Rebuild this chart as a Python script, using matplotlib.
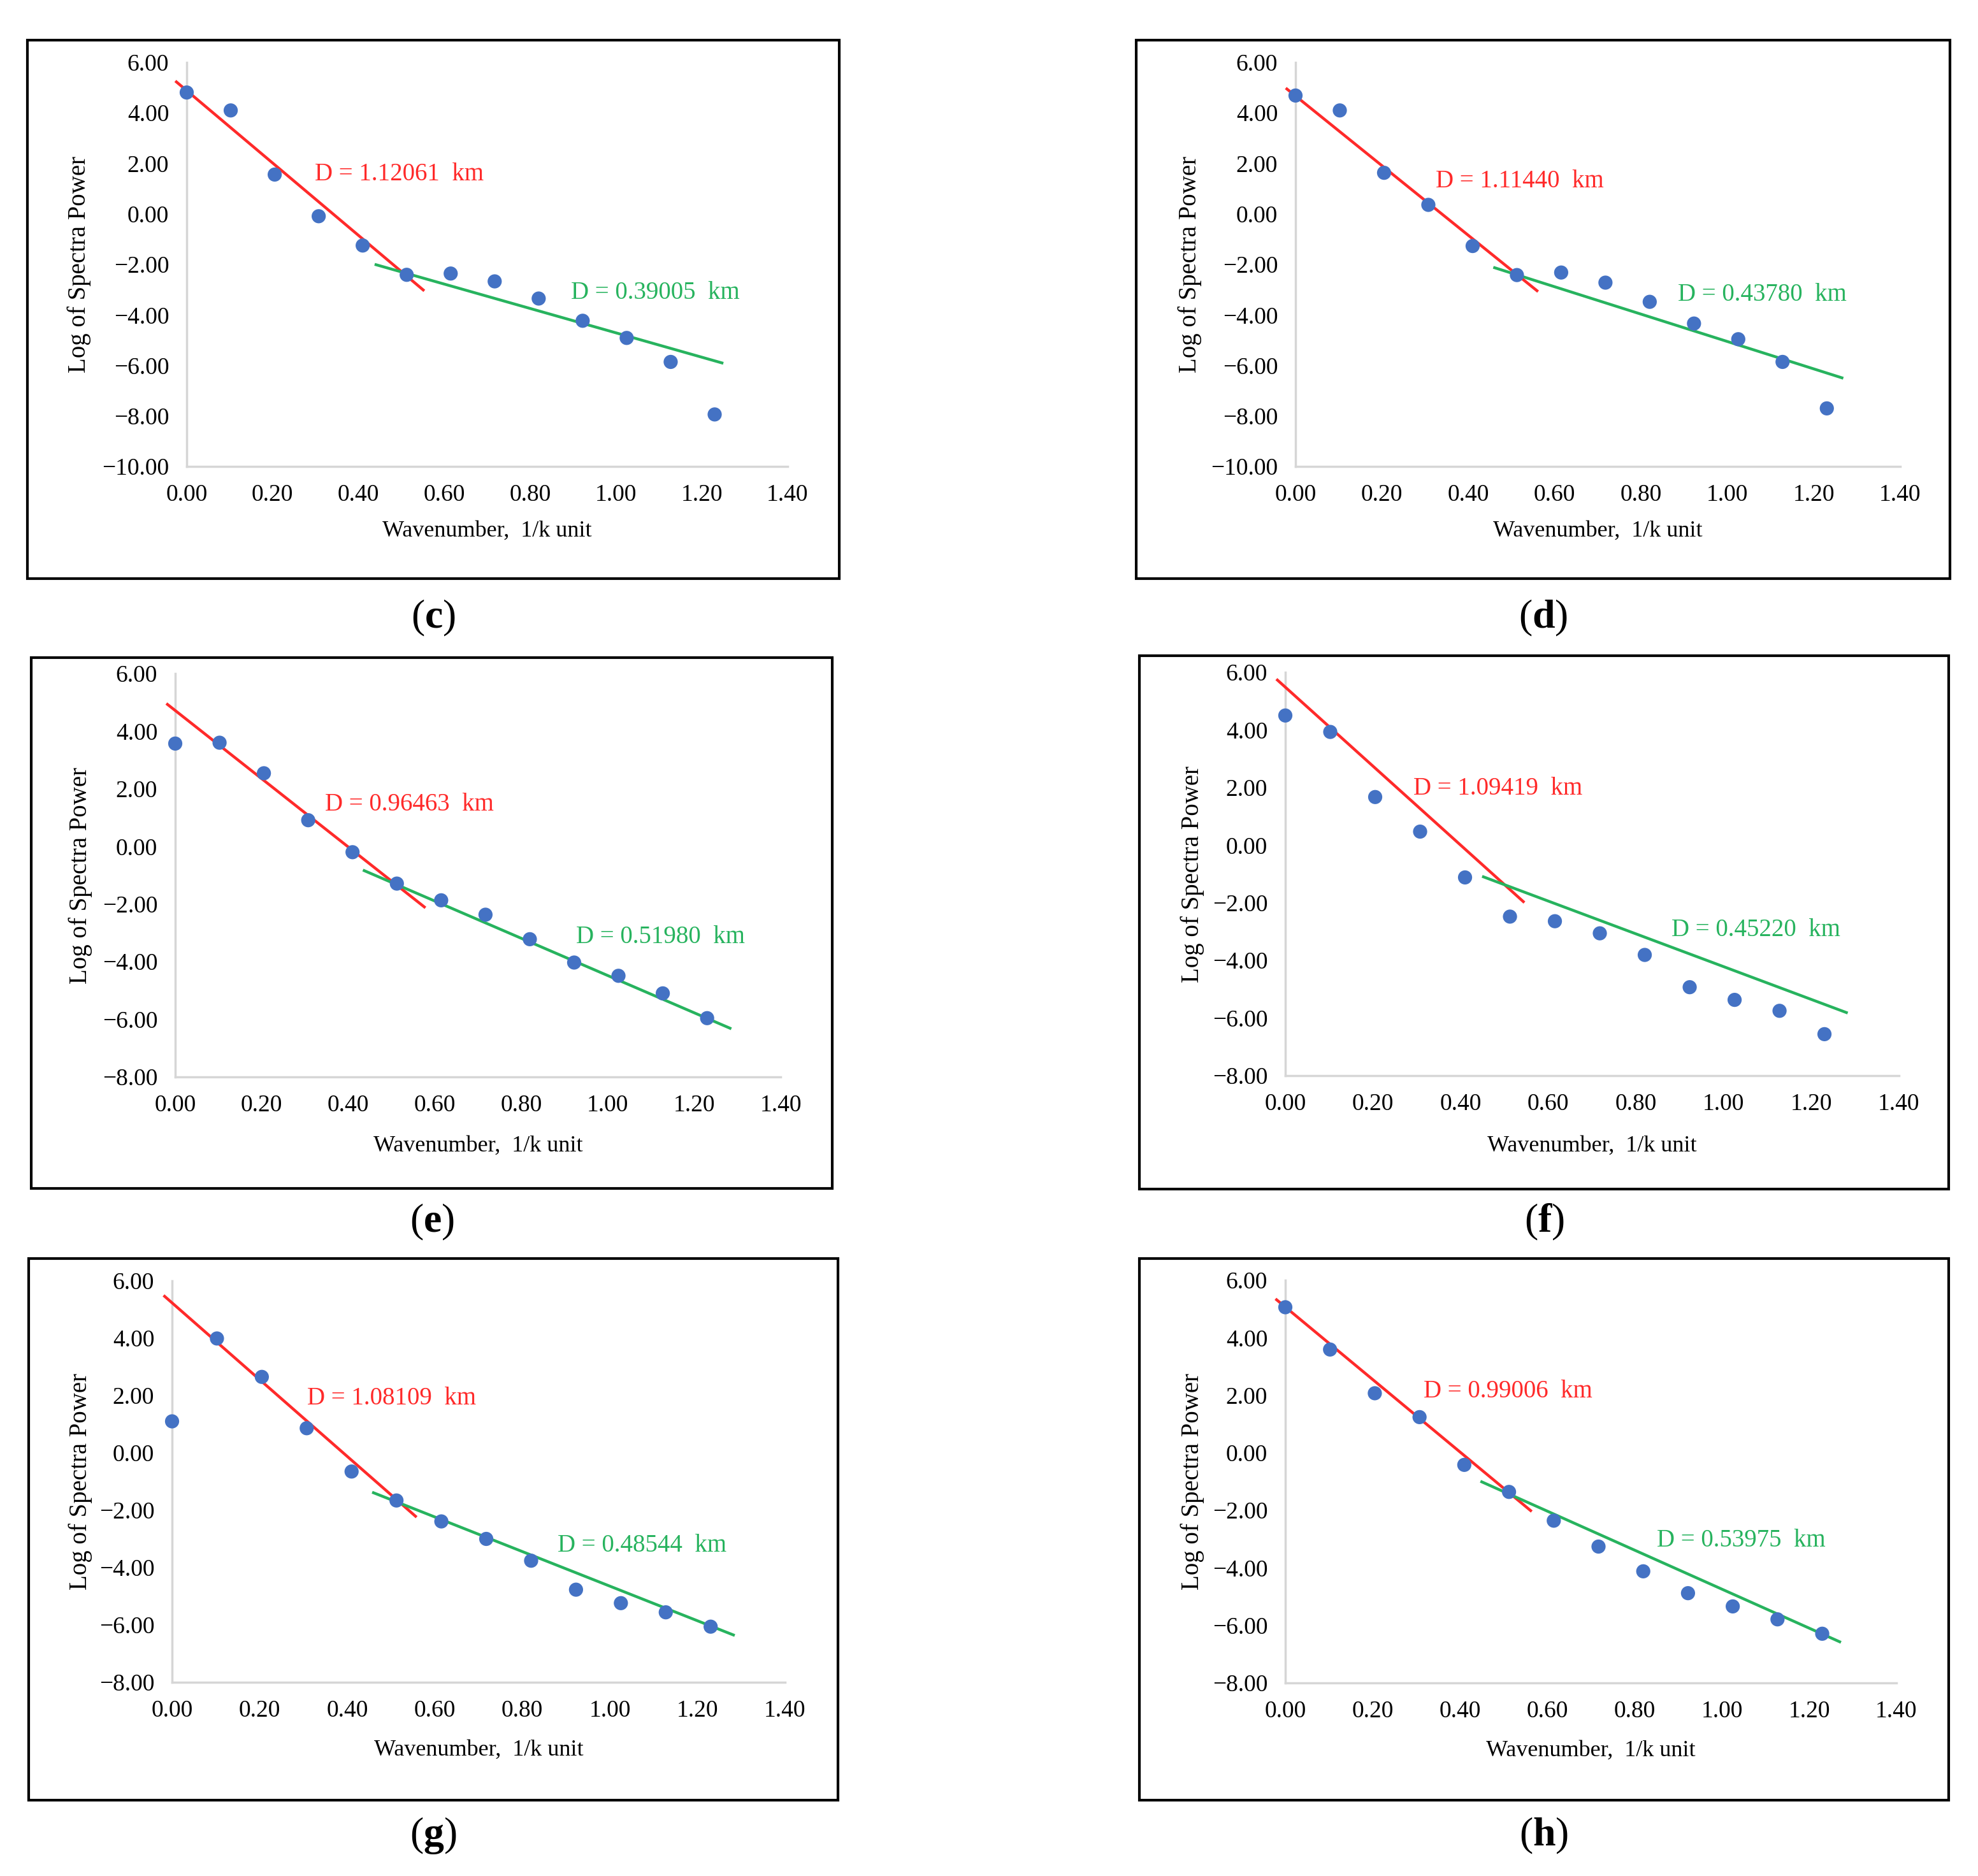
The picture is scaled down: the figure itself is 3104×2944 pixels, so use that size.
import matplotlib
matplotlib.use("Agg")
import matplotlib.pyplot as plt
from matplotlib.patches import Rectangle

plt.rcParams['font.family'] = ['Liberation Serif', 'DejaVu Serif']
plt.rcParams['mathtext.fontset'] = 'custom'
plt.rcParams['mathtext.rm'] = 'Liberation Serif'
plt.rcParams['mathtext.bf'] = 'Liberation Serif:bold'

# data
panels = ['c', 'd', 'e', 'f', 'g', 'h']
wavenumber = [0.0, 0.1025, 0.205, 0.3075, 0.41, 0.5125, 0.615, 0.7175, 0.82, 0.9225, 1.025, 1.1275, 1.23]

power_c = [4.81, 4.10, 1.56, -0.09, -1.25, -2.41, -2.36, -2.67, -3.35, -4.23, -4.91, -5.86, -7.94]
power_d = [4.69, 4.10, 1.63, 0.36, -1.27, -2.42, -2.32, -2.72, -3.48, -4.34, -4.96, -5.86, -7.70]
power_e = [3.57, 3.60, 2.54, 0.91, -0.20, -1.29, -1.87, -2.37, -3.22, -4.03, -4.49, -5.10, -5.96]
power_f = [4.50, 3.93, 1.67, 0.47, -1.12, -2.48, -2.64, -3.06, -3.81, -4.93, -5.37, -5.75, -6.56]
power_g = [1.10, 3.99, 2.65, 0.86, -0.65, -1.66, -2.39, -3.00, -3.76, -4.77, -5.24, -5.56, -6.06]
power_h = [5.06, 3.59, 2.07, 1.24, -0.42, -1.36, -2.36, -3.26, -4.12, -4.88, -5.34, -5.79, -6.29]

# fitted lines (end points): deep source = red, shallow source = green
deep_x = {'c': [-0.024, 0.551], 'd': [-0.020, 0.559], 'e': [-0.018, 0.576],
          'f': [-0.018, 0.543], 'g': [-0.017, 0.556], 'h': [-0.020, 0.562]}
deep_y = {'c': [5.23, -3.01], 'd': [4.95, -3.04], 'e': [4.93, -2.10],
          'f': [5.73, -1.96], 'g': [5.46, -2.21], 'h': [5.32, -2.01]}
shallow_x = {'c': [0.441, 1.247], 'd': [0.461, 1.265], 'e': [0.437, 1.283],
             'f': [0.452, 1.280], 'g': [0.460, 1.282], 'h': [0.450, 1.270]}
shallow_y = {'c': [-2.01, -5.90], 'd': [-2.13, -6.49], 'e': [-0.84, -6.31],
             'f': [-1.10, -5.81], 'g': [-1.39, -6.35], 'h': [-1.01, -6.57]}

depth_deep = ['1.12061', '1.11440', '0.96463', '1.09419', '1.08109', '0.99006']
depth_shallow = ['0.39005', '0.43780', '0.51980', '0.45220', '0.48544', '0.53975']
y_bottom = [-10, -10, -8, -8, -8, -8]

powers = [power_c, power_d, power_e, power_f, power_g, power_h]

# layout in pixels of the 3104 x 2944 picture
W, H = 3104, 2944
box = {'c': (43, 63, 1317, 908), 'd': (1783, 63, 3060, 908),
       'e': (49, 1032, 1306, 1865), 'f': (1788, 1029, 3058, 1866),
       'g': (45, 1975, 1315, 2825), 'h': (1788, 1975, 3058, 2825)}
# x of 0, x of 1.40, y of 6, y of bottom value
axpix = {'c': (293, 1236, 98, 732), 'd': (2033, 2982, 98, 732),
         'e': (275, 1225, 1057, 1690), 'f': (2017, 2980, 1055, 1688),
         'g': (270, 1232, 2010, 2640), 'h': (2017, 2976, 2009, 2641)}
ylab_x = {'c': -0.159, 'd': -0.155, 'e': -0.137, 'f': -0.132, 'g': -0.130, 'h': -0.132}
xlab_y = {'c': -0.134, 'd': -0.134, 'e': -0.145, 'f': -0.148, 'g': -0.142, 'h': -0.142}
label_y = {'c': 970, 'd': 970, 'e': 1918, 'f': 1918, 'g': 2881, 'h': 2881}
deep_txt = {'c': (0.298, 1.56), 'd': (0.325, 1.29), 'e': (0.346, 1.45),
            'f': (0.292, 1.96), 'g': (0.308, 1.90), 'h': (0.317, 2.14)}
shallow_txt = {'c': (0.895, -3.12), 'd': (0.885, -3.20), 'e': (0.927, -3.15),
               'f': (0.881, -2.94), 'g': (0.880, -3.24), 'h': (0.851, -3.05)}

RED = '#FF2A2A'
GREEN = '#27B35E'
BLUE = '#4472C4'
AXGRAY = '#D6D6D6'

fig = plt.figure(figsize=(W / 100, H / 100), dpi=100)

def fmt(v):
    s = f"{abs(v):.2f}"
    return ('\u2212' + s) if v < 0 else s

for i, p in enumerate(panels):
    bx0, by0, bx1, by1 = box[p]
    fig.patches.append(Rectangle((bx0 / W, 1 - by1 / H), (bx1 - bx0) / W, (by1 - by0) / H,
                                 transform=fig.transFigure, fill=False,
                                 edgecolor='black', linewidth=3, zorder=0))
    fig.text((bx0 + bx1) / 2 / W, 1 - label_y[p] / H, r'($\mathbf{' + p + '}$)',
             ha='center', va='center', fontsize=46)

    x0, x1, yt, yb = axpix[p]
    ax = fig.add_axes([x0 / W, 1 - yb / H, (x1 - x0) / W, (yb - yt) / H])
    ax.set_xlim(0, 1.40)
    ax.set_ylim(y_bottom[i], 6)
    for s in ['top', 'right']:
        ax.spines[s].set_visible(False)
    for s in ['left', 'bottom']:
        ax.spines[s].set_color(AXGRAY)
        ax.spines[s].set_linewidth(2.5)

    xt = [0.0, 0.2, 0.4, 0.6, 0.8, 1.0, 1.2, 1.4]
    yt_vals = list(range(y_bottom[i], 7, 2))
    ax.set_xticks(xt)
    ax.set_xticklabels([fmt(v) for v in xt])
    ax.set_yticks(yt_vals)
    ax.set_yticklabels([fmt(v) for v in yt_vals])
    ax.tick_params(length=0, labelsize=27, pad=20)

    ax.plot(deep_x[p], deep_y[p], color=RED, lw=3.2, clip_on=False, zorder=3)
    ax.plot(shallow_x[p], shallow_y[p], color=GREEN, lw=3.2, clip_on=False, zorder=3)
    ax.scatter(wavenumber, powers[i], s=16 ** 2, color=BLUE, edgecolors='none',
               clip_on=False, zorder=4)

    tx, ty = deep_txt[p]
    ax.text(tx, ty, f"D = {depth_deep[i]}  km", color=RED, fontsize=28,
            ha='left', va='center')
    tx, ty = shallow_txt[p]
    ax.text(tx, ty, f"D = {depth_shallow[i]}  km", color=GREEN, fontsize=28,
            ha='left', va='center')

    ax.set_ylabel('Log of Spectra Power', fontsize=28)
    ax.yaxis.set_label_coords(ylab_x[p], 0.5)
    ax.set_xlabel('Wavenumber,  1/k unit', fontsize=26)
    ax.xaxis.set_label_coords(0.5, xlab_y[p])

fig.savefig('out.png', dpi=100, facecolor='white')
